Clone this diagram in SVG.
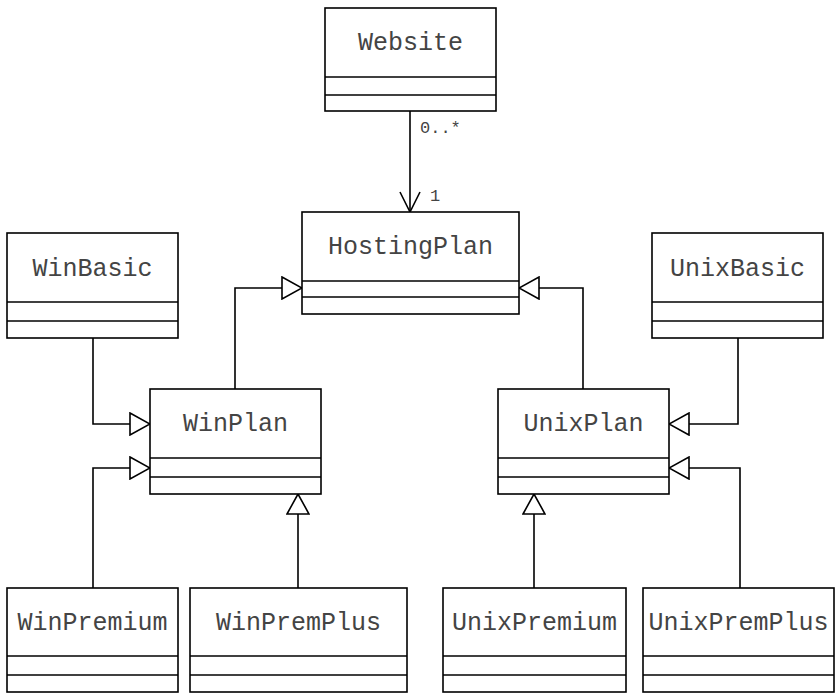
<svg xmlns="http://www.w3.org/2000/svg" width="836" height="693" viewBox="0 0 836 693">
<style>
.box{fill:#fff;stroke:#000;stroke-width:1.6}
.sep{stroke:#000;stroke-width:1.6}
.name{font-family:"Liberation Mono","Courier New",monospace;font-size:25px;fill:#444;text-anchor:middle}
.mult{font-family:"Liberation Mono","Courier New",monospace;font-size:17px;fill:#444}
.conn{fill:none;stroke:#000;stroke-width:1.6}
.gen{marker-end:url(#tri)}
.assoc{marker-end:url(#open)}
</style>
<defs>
<marker id="tri" viewBox="0 0 22 24" refX="21" refY="12" markerWidth="22" markerHeight="24" markerUnits="userSpaceOnUse" orient="auto">
<path d="M1,1 L21,12 L1,23 Z" fill="#fff" stroke="#000" stroke-width="1.6"/>
</marker>
<marker id="open" viewBox="0 0 22 22" refX="21" refY="11" markerWidth="22" markerHeight="22" markerUnits="userSpaceOnUse" orient="auto">
<path d="M1,1 L21,11 L1,21" fill="none" stroke="#000" stroke-width="1.6"/>
</marker>
</defs>
<g id="connectors">
<path class="conn assoc" d="M410,111 V212"/>
<text class="mult" x="420" y="133">0..*</text>
<text class="mult" x="430" y="201">1</text>
<path class="conn gen" d="M235,389 V288 H302"/>
<path class="conn gen" d="M583,389 V288 H519"/>
<path class="conn gen" d="M93,338 V424 H150"/>
<path class="conn gen" d="M93,588 V468 H150"/>
<path class="conn gen" d="M298,588 V494"/>
<path class="conn gen" d="M738,338 V424 H669"/>
<path class="conn gen" d="M740,588 V468 H669"/>
<path class="conn gen" d="M534,588 V494"/>
</g>
<g id="Website">
<rect class="box" x="325" y="8" width="171" height="103"/>
<line class="sep" x1="325" y1="77" x2="496" y2="77"/>
<line class="sep" x1="325" y1="95" x2="496" y2="95"/>
<text class="name" x="410.5" y="50">Website</text>
</g>
<g id="HostingPlan">
<rect class="box" x="302" y="212" width="217" height="102"/>
<line class="sep" x1="302" y1="281" x2="519" y2="281"/>
<line class="sep" x1="302" y1="297" x2="519" y2="297"/>
<text class="name" x="410.5" y="254">HostingPlan</text>
</g>
<g id="WinBasic">
<rect class="box" x="7" y="233" width="171" height="105"/>
<line class="sep" x1="7" y1="302" x2="178" y2="302"/>
<line class="sep" x1="7" y1="321" x2="178" y2="321"/>
<text class="name" x="92.5" y="275.5">WinBasic</text>
</g>
<g id="UnixBasic">
<rect class="box" x="652" y="233" width="171" height="105"/>
<line class="sep" x1="652" y1="302" x2="823" y2="302"/>
<line class="sep" x1="652" y1="321" x2="823" y2="321"/>
<text class="name" x="737.5" y="275.5">UnixBasic</text>
</g>
<g id="WinPlan">
<rect class="box" x="150" y="389" width="171" height="105"/>
<line class="sep" x1="150" y1="458" x2="321" y2="458"/>
<line class="sep" x1="150" y1="477" x2="321" y2="477"/>
<text class="name" x="235.5" y="431">WinPlan</text>
</g>
<g id="UnixPlan">
<rect class="box" x="498" y="389" width="171" height="105"/>
<line class="sep" x1="498" y1="458" x2="669" y2="458"/>
<line class="sep" x1="498" y1="477" x2="669" y2="477"/>
<text class="name" x="583.5" y="431">UnixPlan</text>
</g>
<g id="WinPremium">
<rect class="box" x="7" y="588" width="171" height="104"/>
<line class="sep" x1="7" y1="656" x2="178" y2="656"/>
<line class="sep" x1="7" y1="675" x2="178" y2="675"/>
<text class="name" x="92.5" y="629.5">WinPremium</text>
</g>
<g id="WinPremPlus">
<rect class="box" x="190" y="588" width="217" height="104"/>
<line class="sep" x1="190" y1="656" x2="407" y2="656"/>
<line class="sep" x1="190" y1="675" x2="407" y2="675"/>
<text class="name" x="298.5" y="629.5">WinPremPlus</text>
</g>
<g id="UnixPremium">
<rect class="box" x="443" y="588" width="183" height="104"/>
<line class="sep" x1="443" y1="656" x2="626" y2="656"/>
<line class="sep" x1="443" y1="675" x2="626" y2="675"/>
<text class="name" x="534.5" y="629.5">UnixPremium</text>
</g>
<g id="UnixPremPlus">
<rect class="box" x="643" y="588" width="191" height="104"/>
<line class="sep" x1="643" y1="656" x2="834" y2="656"/>
<line class="sep" x1="643" y1="675" x2="834" y2="675"/>
<text class="name" x="738.5" y="629.5">UnixPremPlus</text>
</g>
</svg>
